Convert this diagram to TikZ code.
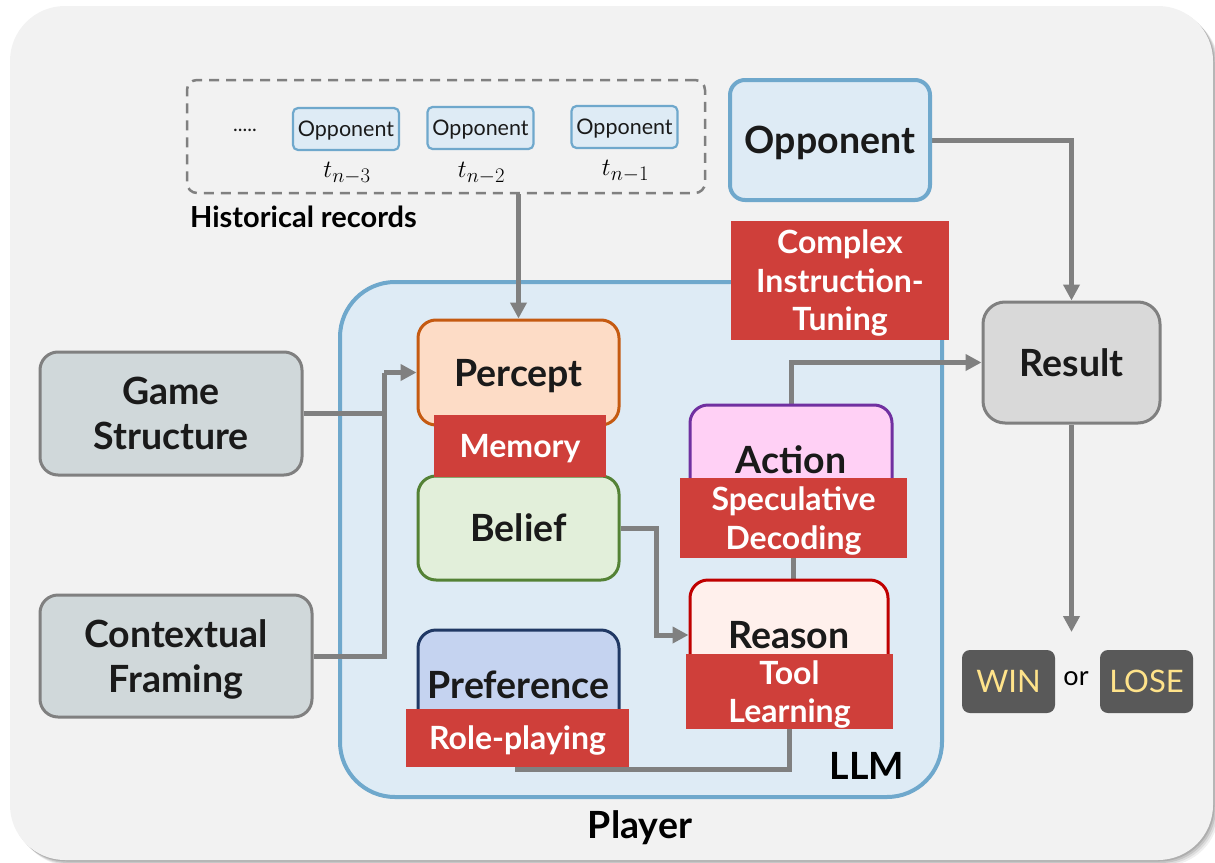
\documentclass[tikz,border=0pt]{standalone}
\usepackage{fontspec}
\setmainfont{Lato}
\usetikzlibrary{arrows.meta,backgrounds}
\pgfdeclarelayer{edges}
\pgfsetlayers{background,edges,main}

\definecolor{paper}{HTML}{F2F2F2}
\definecolor{boxblue}{HTML}{DEEBF5}
\definecolor{edgeblue}{HTML}{6FA8CC}
\definecolor{linegray}{HTML}{808080}
\definecolor{tagred}{HTML}{CF3F3A}
\definecolor{perfill}{HTML}{FDDCC6}
\definecolor{perline}{HTML}{C55A11}
\definecolor{belfill}{HTML}{E2EFDA}
\definecolor{belline}{HTML}{548235}
\definecolor{preffill}{HTML}{C5D3F0}
\definecolor{prefline}{HTML}{203864}
\definecolor{actfill}{HTML}{FFD0F5}
\definecolor{actline}{HTML}{7030A0}
\definecolor{reafill}{HTML}{FFF0EC}
\definecolor{realine}{HTML}{C00000}
\definecolor{inputfill}{HTML}{D0D8DA}
\definecolor{resfill}{HTML}{D9D9D9}
\definecolor{outfill}{HTML}{595959}
\definecolor{outtext}{HTML}{FFE38A}
\definecolor{ink}{HTML}{1A1A1A}

\tikzset{
  card/.style={draw, line width=3pt, rounded corners=18pt, align=center,
    text=ink, font=\bfseries\fontsize{37.5}{45}\selectfont, inner sep=0pt,
    text depth=0pt},
  tag/.style={fill=tagred, text=white, align=center, inner sep=0pt, text depth=-5pt,
    font=\bfseries\fontsize{32}{38.5}\selectfont},
  pastopp/.style={draw=edgeblue, fill=boxblue, line width=2.2pt, rounded corners=5pt,
    minimum width=106pt, minimum height=42pt, inner sep=0pt, text=ink, text depth=0pt,
    font=\fontsize{21.5}{25}\selectfont},
  conn/.style={draw=linegray, line width=5pt},
  arr/.style={conn, -{Triangle[length=16pt,width=16pt]}},
  lbl/.style={text=black, font=\bfseries\fontsize{37.5}{44}\selectfont, inner sep=0pt},
  outcome/.style={fill=outfill, rounded corners=8pt, text=outtext,
    minimum width=93pt, minimum height=63pt, inner sep=0pt, text depth=0pt,
    font=\fontsize{31}{36}\selectfont},
  stamp/.style={font=\fontsize{31}{34}\selectfont, inner sep=0pt},
}

\begin{document}
\begin{tikzpicture}[x=1pt,y=-1pt]
\useasboundingbox (0,0) rectangle (1215,862);

% backdrop with soft shadow
\begin{pgfonlayer}{background}
  \foreach \s/\o in {6/0.06,4.5/0.08,3/0.1,1.5/0.12}
    \fill[black, opacity=\o, rounded corners=55pt] (10+\s,6+\s) rectangle (1213+\s,860+\s);
  \fill[paper, rounded corners=55pt] (10,6) rectangle (1213,860);
  \node[draw=edgeblue, fill=boxblue, line width=4pt, rounded corners=55pt,
        minimum width=602pt, minimum height=515pt, inner sep=0pt] (llm) at (641,539.5) {};
  \node[draw=linegray, dash pattern=on 10pt off 7pt, line width=2.5pt,
        rounded corners=10pt, minimum width=518pt, minimum height=113pt, inner sep=0pt]
        (hist) at (446,136.5) {};
\end{pgfonlayer}

% historical records
\node[text=ink, font=\fontsize{20}{24}\selectfont] (dots) at (245,130) {.....};
\node[pastopp] (o3) at (346,129) {Opponent};
\node[pastopp] (o2) at (480.5,128) {Opponent};
\node[pastopp] (o1) at (624.5,127) {Opponent};
\node[stamp] (t3) at (347,173) {$t_{n-3}$};
\node[stamp] (t2) at (481.5,173) {$t_{n-2}$};
\node[stamp] (t1) at (625.5,171) {$t_{n-1}$};
\node[anchor=west, text=black, inner sep=0pt, font=\bfseries\fontsize{29}{33}\selectfont]
  (histlbl) at (190,217) {Historical records};

% opponent and result
\node[card, draw=edgeblue, fill=boxblue, line width=4pt, rounded corners=15pt,
      minimum width=200pt, minimum height=120pt] (opp) at (830,140) {Opponent};
\node[card, draw=linegray, fill=resfill, rounded corners=22pt,
      minimum width=177pt, minimum height=121pt] (res) at (1071.5,362.5) {Result};
\node[outcome] (win) at (1008.5,681.5) {WIN};
\node[text=black, inner sep=0pt, font=\fontsize{27}{30}\selectfont] (orword) at (1076,679) {or};
\node[outcome] (lose) at (1146.5,681.5) {LOSE};
\coordinate (resend) at (1071.5,632);

% inputs
\node[card, draw=linegray, fill=inputfill, minimum width=262pt, minimum height=123pt]
  (gs) at (171,413.5) {Game\\Structure};
\node[card, draw=linegray, fill=inputfill, minimum width=272pt, minimum height=122pt]
  (cf) at (176,656) {Contextual\\Framing};
\coordinate (join) at (384,372.5);

% modules inside the LLM
\node[card, draw=perline, fill=perfill, minimum width=201pt, minimum height=105pt]
  (percept) at (518.5,372.5) {Percept};
\node[card, draw=belline, fill=belfill, minimum width=201pt, minimum height=104pt]
  (belief) at (518.5,528) {Belief};
\node[card, draw=prefline, fill=preffill, minimum width=201pt, minimum height=110pt]
  (pref) at (518.5,685) {Preference};
\node[card, draw=actline, fill=actfill, minimum width=202pt, minimum height=110pt]
  (action) at (791,460) {Action};
\node[card, draw=realine, fill=reafill, minimum width=198pt, minimum height=110pt]
  (reason) at (789,635) {Reason};

% technique tags
\node[tag, minimum width=218pt, minimum height=119pt] (cit) at (840,280.5)
  {Complex\\Instruction-\\Tuning};
\node[tag, minimum width=172pt, minimum height=62pt] (mem) at (520,446) {Memory};
\node[tag, minimum width=227pt, minimum height=80pt] (spec) at (793.5,518)
  {Speculative\\Decoding};
\node[tag, minimum width=207pt, minimum height=75pt] (tool) at (789.5,691.5)
  {Tool\\Learning};
\node[tag, minimum width=223pt, minimum height=58pt] (role) at (517.5,738) {Role-playing};

\node[lbl] (llmlbl) at (867,766) {LLM};
\node[lbl] (player) at (640,828) {Player};

% connectors
\begin{pgfonlayer}{edges}
  \draw[arr] (percept.north |- hist.south) -- (percept.north);
  \draw[conn] (gs.east) -| (join);
  \draw[conn] (cf.east) -| (join);
  \draw[arr] (join) -- (percept.west);
  \draw[arr] (belief.east) -- ++(36,0) |- (reason.west);
  \draw[conn] (reason.north -| spec.south) -- (spec.south);
  \draw[arr] (action.north) |- (res.west);
  \draw[conn] (tool.south) -- ++(0,40) -| (role.south);
  \draw[arr] (opp.east) -| (res.north);
  \draw[arr] (res.south) -- (resend);
\end{pgfonlayer}
\end{tikzpicture}
\end{document}
